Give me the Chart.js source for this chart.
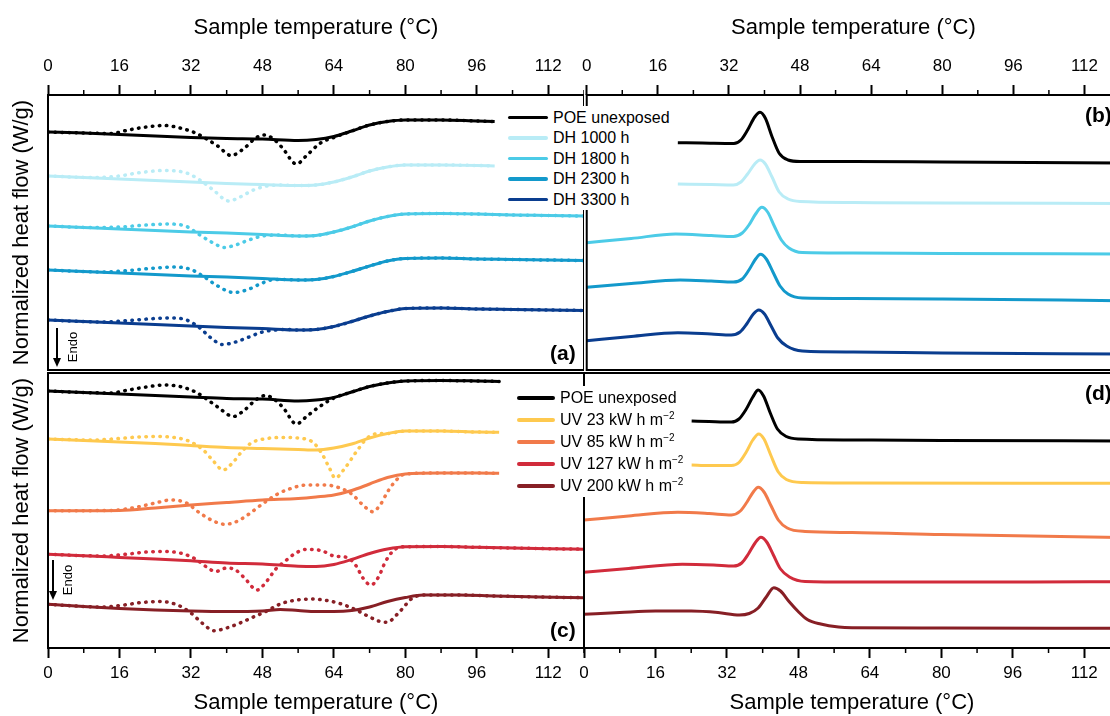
<!DOCTYPE html>
<html>
<head>
<meta charset="utf-8">
<script src="https://cdn.jsdelivr.net/npm/chart.js@4.4.1/dist/chart.umd.min.js"></script>
<style>
body { margin:0; width:1110px; height:716px; overflow:hidden; background:#fff; position:relative;
       font-family:"Liberation Sans", Arial, sans-serif; color:#000; }
canvas { position:absolute; }
#cA { left:0; top:0; }
#cB { left:574px; top:0; }
#cC { left:0; top:371px; }
#cD { left:574px; top:371px; }
.lbox { position:absolute; background:#fff; }
.row { position:absolute; height:20px; white-space:nowrap; font-size:16px; }
.row .ln { position:absolute; left:0; top:8px; height:3.5px; border-radius:2px; }
.row .tx { position:absolute; top:0; line-height:20px; }
sup { font-size:10px; vertical-align:6px; line-height:0; }
.plabel { position:absolute; font-weight:bold; font-size:21px; line-height:24px; }
.arrow { position:absolute; width:2px; background:#000; }
.head { position:absolute; width:0; height:0; border-left:4px solid transparent;
        border-right:4px solid transparent; border-top:9px solid #000; }
.endo { position:absolute; font-size:13px; line-height:14px; width:40px; text-align:center;
        transform:rotate(-90deg); }
</style>
</head>
<body>
<canvas id="cA" width="584" height="371"></canvas>
<canvas id="cB" width="546" height="371"></canvas>
<canvas id="cC" width="584" height="345"></canvas>
<canvas id="cD" width="546" height="345"></canvas>
<div id="overlay"></div>
<script>
// x axis (°C)
const xTicks = [0, 16, 32, 48, 64, 80, 96, 112];
const xMinor = [8, 24, 40, 56, 72, 88, 104, 120];

const dhLabels = ['POE unexposed', 'DH 1000 h', 'DH 1800 h', 'DH 2300 h', 'DH 3300 h'];
const dhColors = ['#000000', '#b9ecf6', '#4ccbe7', '#1399cb', '#0a3d8f'];
const uvLabels = ['POE unexposed', 'UV 23 kW h m<sup>\u22122</sup>', 'UV 85 kW h m<sup>\u22122</sup>',
                  'UV 127 kW h m<sup>\u22122</sup>', 'UV 200 kW h m<sup>\u22122</sup>'];
const uvColors = ['#000000', '#fec94f', '#f17a4a', '#d12b3b', '#871f25'];

// (a) DH, heating curves (offset heat flow, arbitrary units), solid + dotted first heating
const aPoeSolid = [[0,238],[8,237],[16,235.5],[24,234],[32,232.5],[40,231.5],[48,231],[56,229.5],[60,230.5],[64,233.5],[68,239],[72,245],[76,248.5],[80,250],[88,250],[96,249],[100,248.5]];
const aPoeDot = [[0,238],[8,237],[14,236.5],[18,240],[22,243],[26,244.5],[30,241.5],[33,237],[35.5,231],[38,224],[41,214.5],[44,222],[46.5,232],[48.5,235],[50.5,231],[52.5,222],[55.6,206],[58,215],[61,227],[64,232.5]];
const a1000Solid = [[0,194],[8,192.5],[16,191],[24,189.5],[32,188],[40,186.5],[48,185.5],[56,184.5],[60,185],[64,188],[68,193],[72,199],[76,203],[80,205],[88,205],[96,204.5],[100,204]];
const a1000Dot = [[0,194],[10,192.5],[16,194],[20,197],[26,199.5],[31,197],[34,190],[37,180],[40.5,169],[43,173],[46,180],[49,184],[52,185]];
const a1800Solid = [[0,144],[8,142.5],[16,141],[24,139.5],[32,138],[40,137],[48,135.5],[56,134],[60,134.5],[64,138],[68,143],[72,149],[76,153.5],[80,156],[88,156.5],[96,156],[104,155],[112,154.5],[120,154]];
const a1800Dot = [[0,144],[10,142.5],[16,143],[22,145],[27,146],[31,143.5],[34,135],[37,127],[39.5,122.5],[42,125],[45,130],[48,134],[52,135]];
const a2300Solid = [[0,100],[8,98.5],[16,97],[24,95.5],[32,94],[40,93],[48,91.5],[56,90],[60,90.5],[64,93.5],[68,98.5],[72,104],[76,109],[80,111.5],[88,112],[96,111],[104,110.5],[112,110],[120,109.5]];
const a2300Dot = [[0,100],[12,98],[18,99.5],[24,102],[28.5,103],[32,100.5],[35,93],[38,84],[41.5,77.5],[44.5,80],[47.5,86],[50,90],[53,90.5]];
const a3300Solid = [[0,50],[8,48.5],[16,47],[24,45.5],[32,44],[40,42.5],[48,41.5],[56,40],[60,40.5],[64,43.5],[68,48.5],[72,54],[76,58.5],[80,61.5],[88,62],[96,61],[104,60.5],[112,60],[120,59.5]];
const a3300Dot = [[0,50],[12,48],[18,49.5],[24,51.5],[28,52],[31,50],[34,42],[36.5,32],[39,25.5],[42,28],[45,33],[48,38],[51,40],[54,40.5]];

// (b) DH, cooling curves
const bPoe = [[20.5,227.3],[26,227],[33.1,226.5],[34.7,230],[36.2,240],[37.8,253],[39,257.7],[40.2,251.7],[41.7,233.3],[43.3,216.7],[45.3,210],[48,208.5],[60,208.5],[80,208],[100,207.5],[120,207]];
const b1000 = [[20.5,186],[28,185.5],[33,185],[34.7,188],[36.2,196],[37.8,206],[39,210],[40.2,206],[41.7,193],[43.3,178],[45.3,171],[48,168.5],[60,167.5],[80,167],[120,166.5]];
const b1800 = [[0,127.3],[10,131.5],[20,136],[28,134.5],[33,133.5],[35,137],[36.5,145],[38,156],[39.4,162.7],[40.7,158],[42.2,144],[43.8,130],[45.5,122],[48.5,117.5],[60,117],[80,116.5],[120,116]];
const b2300 = [[0,82.7],[10,86.5],[21,90],[28,89],[33,88],[35,91],[36.5,100],[38,111],[39.1,115.7],[40.4,111],[41.9,98],[43.5,84],[45.3,76],[48.5,72],[60,71.5],[80,71],[120,69.3]];
const b3300 = [[0,29.3],[10,33.5],[20.5,37.3],[28,36],[32.5,35],[34.5,38],[36,46],[37.5,56],[38.7,60],[40,56],[41.5,44],[43,32],[45,24],[48.5,19],[60,18],[80,17],[120,16]];

// (c) UV, heating curves
const cPoeSolid = [[0,257],[8,255.5],[16,254],[24,252.5],[32,251],[40,249.5],[48,249],[56,247],[60,248],[64,250.5],[68,256],[72,261.5],[76,265],[80,267],[88,267.5],[96,267],[101,266.5]];
const cPoeDot = [[0,257],[8,255.5],[14,255],[18,258],[22,261],[26,263],[30,261],[33,256],[35.5,249],[38,241],[41.5,231.5],[44,238],[46.5,248],[48.7,252.5],[50.7,248.5],[52.7,240],[55.6,224],[58,232],[61,242],[64,250]];
const c23Solid = [[0,209],[8,207.5],[16,206],[24,204.5],[32,202.5],[40,200.5],[48,199.5],[56,198.5],[60,198],[64,200],[68,204],[72,210],[76,214.5],[80,217],[88,217],[96,216],[101,215.7]];
const c23Dot = [[0,209],[10,208],[16,209.5],[20,211],[24.5,211.5],[29,210],[32,206],[35,197],[37,187],[39.2,178],[41.5,186],[43.5,197],[45.5,205],[49,209.5],[52.5,210.5],[57,209.5],[59.5,205],[61.5,193],[63,180],[64.3,170],[66.5,180],[69,196],[71.5,210],[74,214.5]];
const c85Solid = [[0,137.3],[8,137.3],[16,137.5],[24,140],[32,143],[40,145.5],[48,148],[56,149.5],[60,151],[64,153],[68,157.5],[72,164],[76,170.5],[80,174],[88,175],[96,175],[101,174.7]];
const c85Dot = [[0,137.3],[14,137.5],[20,141],[24,145],[27.5,148],[31,145],[34,135],[37,127],[39.6,123.7],[42,126],[45,134],[48,144],[51,153],[54,159],[58,163],[62,163],[65,160.5],[68,154],[70.5,143],[72.7,136.3],[74.5,144],[76,156],[78,168]];
const c127Solid = [[0,93.7],[8,92.2],[16,90.6],[24,89],[32,87.2],[40,85],[48,84],[56,81.8],[60,81.5],[64,83.5],[68,88.5],[72,94.5],[76,99],[80,101.3],[88,101.5],[96,100.7],[104,100],[112,99.3],[120,98.8]];
const c127Dot = [[0,93.7],[12,92],[18,94],[22,96],[26,96.5],[30,94.5],[33,89],[35.5,81],[37.5,76.5],[40,80],[42,78],[44,70],[46.8,58],[49,67],[51,79],[53,86.5],[55.5,95],[58,98.7],[61.5,97],[64,92],[67,90.5],[69,82],[70.5,70],[72.3,63],[74,71],[75.5,86],[77.5,98]];
const c200Solid = [[0,43.7],[8,41.5],[16,39.5],[24,38],[32,37],[40,36.5],[48,37],[52,38.5],[56,37.5],[60,36.5],[64,36.5],[68,37.5],[72,41],[76,46.5],[80,50.5],[84,53],[92,53],[100,52],[110,51],[120,50.3]];
const c200Dot = [[0,43.7],[12,41],[17,43],[21,45.5],[25,46.5],[29,43],[32,35],[34.5,25],[37.2,17.3],[40,20],[43,25],[46,31],[49,37],[52,44],[55,47.5],[59,49],[63,47],[66,43.5],[69,38],[72,31],[74,27],[76,25.7],[78,33],[79.7,41],[81,48]];

// (d) UV, cooling curves
const dPoe = [[24.1,227],[28,226.5],[33,226],[34.7,229],[36.2,238],[37.8,251],[39,258],[40.2,252],[41.7,235],[43.3,219],[45.3,211.5],[48,209],[60,208],[80,207.5],[120,207]];
const d23 = [[24.1,183],[28,182.5],[33,182.5],[34.7,185.5],[36.2,195],[37.8,208],[39.1,214],[40.3,209],[41.8,193],[43.5,176],[45.3,168.5],[49,165.5],[60,165],[120,164.7]];
const d85 = [[0,128],[10,132],[21,135.7],[28,134.5],[33,133],[35,137],[36.5,146],[37.9,156],[39,160.7],[40.3,156],[41.9,142],[43.5,128],[45.5,120],[49.5,116.5],[60,115.5],[80,113.5],[100,112],[120,110.5]];
const d127 = [[0,75.7],[10,79.5],[22,83.7],[29,83],[33.5,82],[35.3,85],[36.8,94],[38.3,105],[39.6,110.7],[40.9,106],[42.4,93],[44,79],[46,71],[49.5,66.5],[60,66],[100,66],[120,66.3]];
const d200 = [[0,33.7],[8,35.5],[16,37],[24,37],[30,35.5],[34.8,33],[37,34.5],[39,40],[40.8,51],[42.5,60.3],[44,57],[46,46],[48,36.3],[50,28.5],[53,24],[57,21],[60,20.3],[80,20],[120,19.7]];

function toXY(pts) {
	return pts.map(p => ({ x: p[0], y: p[1] }));
}

function solid(pts, color) {
	return {
		data: toXY(pts), borderColor: color, borderWidth: 3, pointRadius: 0,
		cubicInterpolationMode: 'monotone', order: 2
	};
}

// dotted trace runs on top of the solid one after the transitions
function dotted(part, base, color) {
	const last = part[part.length - 1][0];
	const pts = part.concat(base.filter(p => p[0] > last));
	return {
		data: toXY(pts), borderColor: color, borderWidth: 3.5, pointRadius: 0,
		borderDash: [0.5, 6.5], borderCapStyle: 'round',
		cubicInterpolationMode: 'monotone', order: 1
	};
}

const framePlugin = {
	id: 'frame',
	afterDraw(chart) {
		const { ctx, chartArea: a } = chart;
		const xs = chart.scales.x;
		const top = xs.options.position === 'top';
		ctx.save();
		ctx.strokeStyle = '#000';
		ctx.lineWidth = 2;
		ctx.strokeRect(a.left, a.top, a.right - a.left, a.bottom - a.top);
		ctx.lineWidth = 1.5;
		const y0 = top ? a.top : a.bottom;
		const dir = top ? -1 : 1;
		xMinor.forEach(v => {
			const px = xs.getPixelForValue(v);
			ctx.beginPath();
			ctx.moveTo(px, y0);
			ctx.lineTo(px, y0 + dir * 5);
			ctx.stroke();
		});
		ctx.restore();
	}
};

function makePanel(id, datasets, pos, withTitle) {
	const isTop = pos === 'top';
	return new Chart(document.getElementById(id), {
		type: 'line',
		data: { datasets },
		plugins: [framePlugin],
		options: {
			responsive: false,
			animation: false,
			layout: { padding: { left: 0, right: 0, top: isTop ? 0 : 2, bottom: isTop ? 1 : 0 } },
			plugins: { legend: { display: false }, tooltip: { enabled: false } },
			scales: {
				x: {
					type: 'linear', position: pos, min: 0, max: 120,
					afterBuildTicks: s => { s.ticks = xTicks.map(v => ({ value: v })); },
					afterFit: s => { s.height = isTop ? 95 : 68; },
					ticks: {
						color: '#000', font: { size: 17, family: '"Liberation Sans", Arial' },
						padding: isTop ? 8 : 5, maxRotation: 0,
						callback: v => String(v)
					},
					grid: { drawOnChartArea: false, tickLength: 10, tickWidth: 2, tickColor: '#000' },
					border: { display: false },
					title: {
						display: true, text: 'Sample temperature (°C)', color: '#000',
						font: { size: 22, family: '"Liberation Sans", Arial' },
						padding: isTop ? { top: 15, bottom: 0 } : { top: 0, bottom: 0 }
					}
				},
				y: {
					min: 0, max: 275,
					afterFit: s => { s.width = withTitle ? 48 : 10; },
					ticks: { display: false },
					grid: { display: false },
					border: { display: false },
					title: {
						display: withTitle, text: 'Normalized heat flow (W/g)', color: '#000',
						font: { size: 22, family: '"Liberation Sans", Arial' },
						padding: { top: 9, bottom: 0 }
					}
				}
			}
		}
	});
}

makePanel('cA', [
	dotted(aPoeDot, aPoeSolid, dhColors[0]), solid(aPoeSolid, dhColors[0]),
	dotted(a1000Dot, a1000Solid, dhColors[1]), solid(a1000Solid, dhColors[1]),
	dotted(a1800Dot, a1800Solid, dhColors[2]), solid(a1800Solid, dhColors[2]),
	dotted(a2300Dot, a2300Solid, dhColors[3]), solid(a2300Solid, dhColors[3]),
	dotted(a3300Dot, a3300Solid, dhColors[4]), solid(a3300Solid, dhColors[4])
], 'top', true);

makePanel('cB', [bPoe, b1000, b1800, b2300, b3300].map((s, i) => solid(s, dhColors[i])), 'top', false);

makePanel('cC', [
	dotted(cPoeDot, cPoeSolid, uvColors[0]), solid(cPoeSolid, uvColors[0]),
	dotted(c23Dot, c23Solid, uvColors[1]), solid(c23Solid, uvColors[1]),
	dotted(c85Dot, c85Solid, uvColors[2]), solid(c85Solid, uvColors[2]),
	dotted(c127Dot, c127Solid, uvColors[3]), solid(c127Solid, uvColors[3]),
	dotted(c200Dot, c200Solid, uvColors[4]), solid(c200Solid, uvColors[4])
], 'bottom', true);

makePanel('cD', [dPoe, d23, d85, d127, d200].map((s, i) => solid(s, uvColors[i])), 'bottom', false);

// legends (white box hides the divider), panel labels and Endo arrows
const overlay = document.getElementById('overlay');
function addLegend(labels, colors, box, left, lineW, textLeft, rowsY) {
	const b = document.createElement('div');
	b.className = 'lbox';
	b.style.left = box[0] + 'px';
	b.style.top = box[1] + 'px';
	b.style.width = box[2] + 'px';
	b.style.height = box[3] + 'px';
	overlay.appendChild(b);
	labels.forEach((lab, i) => {
		const row = document.createElement('div');
		row.className = 'row';
		row.style.left = left + 'px';
		row.style.top = (rowsY[i] - 10) + 'px';
		row.innerHTML = `<span class="ln" style="width:${lineW}px;background:${colors[i]}"></span>` +
			`<span class="tx" style="left:${textLeft - left}px">${lab}</span>`;
		overlay.appendChild(row);
	});
}
addLegend(dhLabels, dhColors, [503, 106, 172, 104], 508, 40, 553, [117.5, 138, 158.5, 179, 199.5]);
addLegend(uvLabels, uvColors, [512, 386, 178, 111], 517, 38, 560, [398, 420, 442, 464, 486]);

[['(a)', 550, 353], ['(b)', 1085, 115], ['(c)', 550, 630], ['(d)', 1085, 393]].forEach(([t, x, y]) => {
	const d = document.createElement('div');
	d.className = 'plabel';
	d.style.left = x + 'px';
	d.style.top = (y - 12) + 'px';
	d.textContent = t;
	overlay.appendChild(d);
});

[[57, 328, 367, 73, 347], [52.5, 560, 600, 67.5, 580]].forEach(([x, y1, y2, tx, ty]) => {
	const a = document.createElement('div');
	a.className = 'arrow';
	a.style.left = (x - 1) + 'px';
	a.style.top = y1 + 'px';
	a.style.height = (y2 - y1 - 8) + 'px';
	overlay.appendChild(a);
	const h = document.createElement('div');
	h.className = 'head';
	h.style.left = (x - 4) + 'px';
	h.style.top = (y2 - 9) + 'px';
	overlay.appendChild(h);
	const e = document.createElement('div');
	e.className = 'endo';
	e.style.left = (tx - 20) + 'px';
	e.style.top = (ty - 7) + 'px';
	e.textContent = 'Endo';
	overlay.appendChild(e);
});
</script>
</body>
</html>
